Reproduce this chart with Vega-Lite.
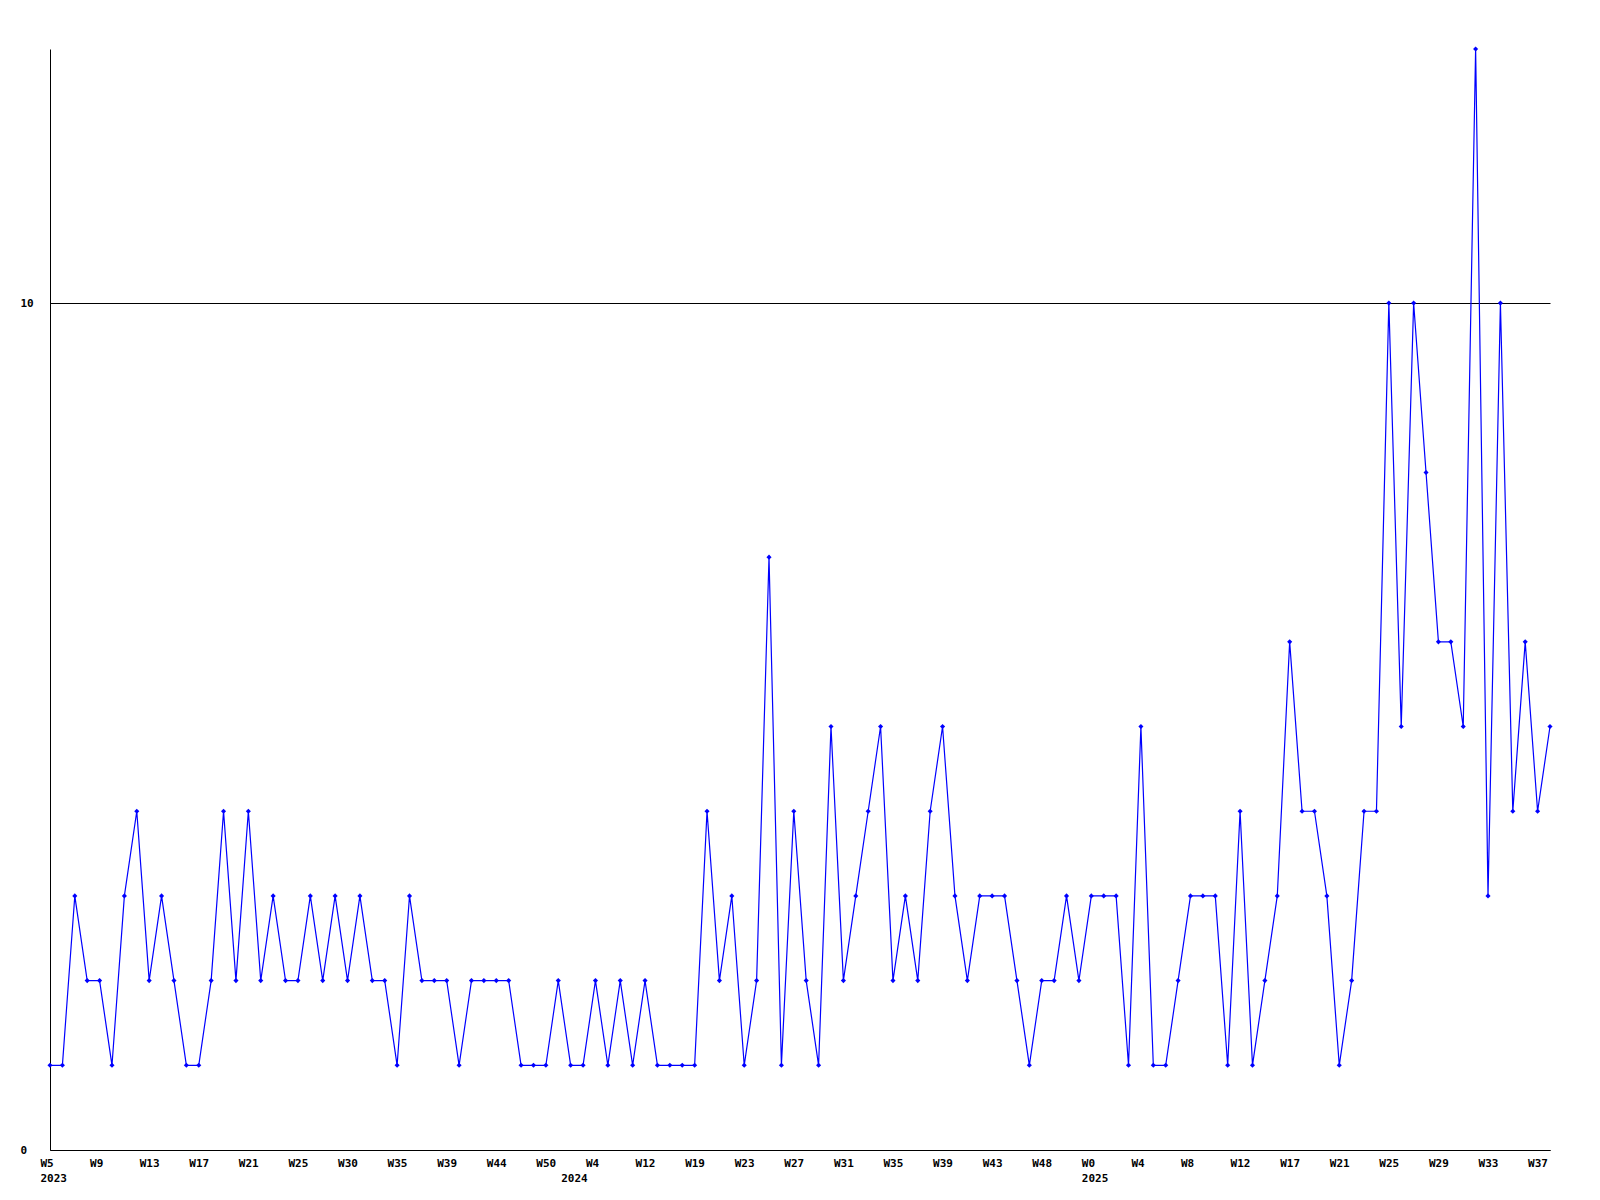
{
  "$schema": "https://vega.github.io/schema/vega-lite/v6.json",
  "autosize": "none",
  "padding": {"left": 50, "top": 49, "right": 50, "bottom": 50},
  "width": 1500,
  "height": 1101,
  "background": "white",
  "config": {"view": {"stroke": null}},
  "data": {"values": [
    {"period":"2023-W05","value":1},{"period":"2023-W06","value":1},{"period":"2023-W07","value":3},{"period":"2023-W08","value":2},
    {"period":"2023-W09","value":2},{"period":"2023-W10","value":1},{"period":"2023-W11","value":3},{"period":"2023-W12","value":4},
    {"period":"2023-W13","value":2},{"period":"2023-W14","value":3},{"period":"2023-W15","value":2},{"period":"2023-W16","value":1},
    {"period":"2023-W17","value":1},{"period":"2023-W18","value":2},{"period":"2023-W19","value":4},{"period":"2023-W20","value":2},
    {"period":"2023-W21","value":4},{"period":"2023-W22","value":2},{"period":"2023-W23","value":3},{"period":"2023-W24","value":2},
    {"period":"2023-W25","value":2},{"period":"2023-W26","value":3},{"period":"2023-W27","value":2},{"period":"2023-W29","value":3},
    {"period":"2023-W30","value":2},{"period":"2023-W31","value":3},{"period":"2023-W32","value":2},{"period":"2023-W34","value":2},
    {"period":"2023-W35","value":1},{"period":"2023-W36","value":3},{"period":"2023-W37","value":2},{"period":"2023-W38","value":2},
    {"period":"2023-W39","value":2},{"period":"2023-W40","value":1},{"period":"2023-W41","value":2},{"period":"2023-W43","value":2},
    {"period":"2023-W44","value":2},{"period":"2023-W45","value":2},{"period":"2023-W47","value":1},{"period":"2023-W49","value":1},
    {"period":"2023-W50","value":1},{"period":"2023-W51","value":2},{"period":"2024-W01","value":1},{"period":"2024-W02","value":1},
    {"period":"2024-W04","value":2},{"period":"2024-W06","value":1},{"period":"2024-W08","value":2},{"period":"2024-W10","value":1},
    {"period":"2024-W12","value":2},{"period":"2024-W14","value":1},{"period":"2024-W16","value":1},{"period":"2024-W17","value":1},
    {"period":"2024-W19","value":1},{"period":"2024-W20","value":4},{"period":"2024-W21","value":2},{"period":"2024-W22","value":3},
    {"period":"2024-W23","value":1},{"period":"2024-W24","value":2},{"period":"2024-W25","value":7},{"period":"2024-W26","value":1},
    {"period":"2024-W27","value":4},{"period":"2024-W28","value":2},{"period":"2024-W29","value":1},{"period":"2024-W30","value":5},
    {"period":"2024-W31","value":2},{"period":"2024-W32","value":3},{"period":"2024-W33","value":4},{"period":"2024-W34","value":5},
    {"period":"2024-W35","value":2},{"period":"2024-W36","value":3},{"period":"2024-W37","value":2},{"period":"2024-W38","value":4},
    {"period":"2024-W39","value":5},{"period":"2024-W40","value":3},{"period":"2024-W41","value":2},{"period":"2024-W42","value":3},
    {"period":"2024-W43","value":3},{"period":"2024-W44","value":3},{"period":"2024-W45","value":2},{"period":"2024-W47","value":1},
    {"period":"2024-W48","value":2},{"period":"2024-W49","value":2},{"period":"2024-W50","value":3},{"period":"2024-W51","value":2},
    {"period":"2025-W00","value":3},{"period":"2025-W01","value":3},{"period":"2025-W02","value":3},{"period":"2025-W03","value":1},
    {"period":"2025-W04","value":5},{"period":"2025-W05","value":1},{"period":"2025-W06","value":1},{"period":"2025-W07","value":2},
    {"period":"2025-W08","value":3},{"period":"2025-W09","value":3},{"period":"2025-W10","value":3},{"period":"2025-W11","value":1},
    {"period":"2025-W12","value":4},{"period":"2025-W13","value":1},{"period":"2025-W14","value":2},{"period":"2025-W16","value":3},
    {"period":"2025-W17","value":6},{"period":"2025-W18","value":4},{"period":"2025-W19","value":4},{"period":"2025-W20","value":3},
    {"period":"2025-W21","value":1},{"period":"2025-W22","value":2},{"period":"2025-W23","value":4},{"period":"2025-W24","value":4},
    {"period":"2025-W25","value":10},{"period":"2025-W26","value":5},{"period":"2025-W27","value":10},{"period":"2025-W28","value":8},
    {"period":"2025-W29","value":6},{"period":"2025-W30","value":6},{"period":"2025-W31","value":5},{"period":"2025-W32","value":13},
    {"period":"2025-W33","value":3},{"period":"2025-W34","value":10},{"period":"2025-W35","value":4},{"period":"2025-W36","value":6},
    {"period":"2025-W37","value":4},{"period":"2025-W38","value":5}
  ]},
  "encoding": {
    "x": {
      "field": "period",
      "type": "ordinal",
      "sort": null,
      "scale": {"type": "point", "padding": 0},
      "axis": {
        "title": null,
        "values": ["2023-W05","2023-W09","2023-W13","2023-W17","2023-W21","2023-W25","2023-W30","2023-W35","2023-W39","2023-W44","2023-W50","2024-W01","2024-W04","2024-W12","2024-W19","2024-W23","2024-W27","2024-W31","2024-W35","2024-W39","2024-W43","2024-W48","2025-W00","2025-W04","2025-W08","2025-W12","2025-W17","2025-W21","2025-W25","2025-W29","2025-W33","2025-W37"],
        "labelExpr": "[datum.value === '2024-W01' ? '' : 'W' + toNumber(slice(datum.value, 6)), indexof(['2023-W05','2024-W01','2025-W00'], datum.value) >= 0 ? slice(datum.value, 0, 4) : '']",
        "labelAngle": 0,
        "labelAlign": "left",
        "labelBaseline": "top",
        "labelOffset": -10,
        "labelPadding": 7,
        "labelLineHeight": 15,
        "labelOverlap": false,
        "labelBound": false,
        "labelFlush": false,
        "labelFont": "DejaVu Sans Mono",
        "labelFontWeight": "bold",
        "labelFontSize": 11,
        "labelColor": "black",
        "ticks": false,
        "tickSize": 0,
        "grid": false,
        "domainColor": "black",
        "domainWidth": 1
      }
    },
    "y": {
      "field": "value",
      "type": "quantitative",
      "scale": {"domain": [0, 13], "nice": false, "zero": true},
      "axis": {
        "title": null,
        "values": [0, 10],
        "grid": true,
        "gridColor": "black",
        "gridOpacity": 1,
        "gridWidth": 1,
        "ticks": false,
        "tickSize": 0,
        "labelAlign": "left",
        "labelBaseline": "middle",
        "labelPadding": 30,
        "labelFont": "DejaVu Sans Mono",
        "labelFontWeight": "bold",
        "labelFontSize": 11,
        "labelColor": "black",
        "domainColor": "black",
        "domainWidth": 1
      }
    }
  },
  "layer": [
    {"mark": {"type": "line", "color": "#0000ff", "strokeWidth": 1.2}},
    {"mark": {"type": "point", "shape": "diamond", "filled": true, "size": 26, "color": "#0000ff", "opacity": 1}}
  ]
}
